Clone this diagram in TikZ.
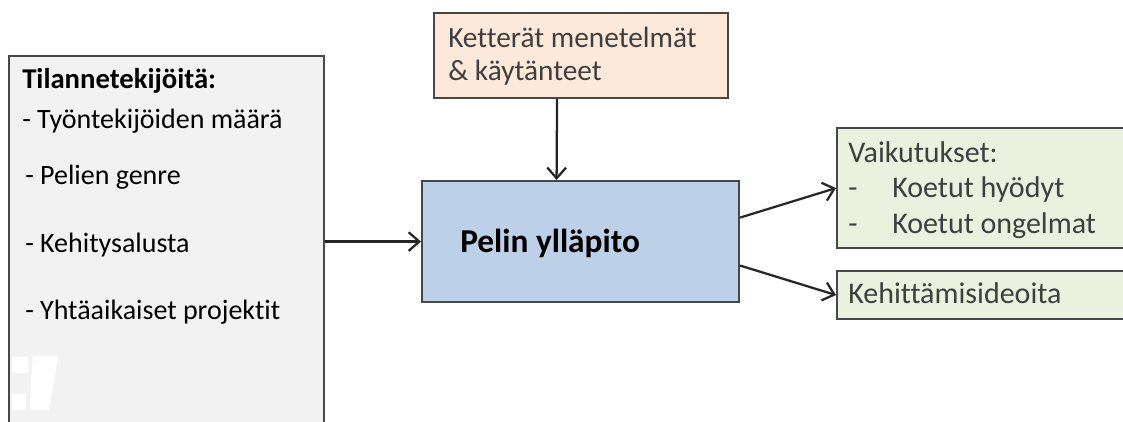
\documentclass[tikz,border=0pt]{standalone}
\usepackage{fontspec}
\setmainfont{Carlito}[Ligatures={NoCommon}]
\usepackage{tikz}
\usetikzlibrary{arrows.meta}
\definecolor{boxline}{HTML}{474747}
\definecolor{tekijafill}{HTML}{F2F2F2}
\definecolor{ketterafill}{HTML}{FDE9D9}
\definecolor{yllapitofill}{HTML}{BCD0E8}
\definecolor{vaikutusfill}{HTML}{EBF1DE}
\definecolor{harmaateksti}{HTML}{3F3F3F}

\begin{document}
\begin{tikzpicture}[x=0.75pt,y=-0.75pt,
    box/.style={draw=boxline, line width=1.6pt, inner sep=0pt, anchor=north west},
    txt/.style={anchor=base west, inner sep=0pt, font=\fontsize{21}{25}\selectfont},
    rtxt/.style={txt, harmaateksti, font=\fontsize{22.5}{27}\selectfont},
    arr/.style={-{Straight Barb[length=8pt,width=14pt]}, line width=1.7pt, black!85}]
  \clip (0,0) rectangle (1123,421);

  % Draw boxes
  \node [box, fill=tekijafill, minimum width=236.25pt, minimum height=300pt] (tekijat) at (8,55) {};
  \node [box, fill=ketterafill, minimum width=220.5pt, minimum height=63.75pt] (ketterat) at (433,12) {};
  \node [box, fill=yllapitofill, minimum width=237.75pt, minimum height=90.75pt] (yllapito) at (421,180) {};
  \node [box, fill=vaikutusfill, minimum width=235.5pt, minimum height=90pt] (vaikutukset) at (836,127) {};
  \node [box, fill=vaikutusfill, minimum width=235.5pt, minimum height=36pt] (ideat) at (836,270) {};

  % White patch in the corner
  \fill [white] (12,357) rectangle (28,373);
  \fill [white] (12,394) rectangle (26,410);
  \fill [white] (33,356) -- (58,356) -- (49,410) -- (30,410) -- (31,378) -- cycle;

  % Texts, left
  \node [txt, font=\fontsize{21.5}{25}\selectfont\bfseries] (otsikko) at (22,88) {Tilannetekijöitä:};
  \node [txt] (tyontekijat) at (22,128) {- Työntekijöiden määrä};
  \node [txt] (genre) at (25,184) {- Pelien genre};
  \node [txt] (alusta) at (25,252) {- Kehitysalusta};
  \node [txt] (projektit) at (25,319) {- Yhtäaikaiset projektit};

  % Texts, top and middle
  \node [rtxt, font=\fontsize{22}{26}\selectfont] (ketterat1) at (448,47) {Ketterät menetelmät};
  \node [rtxt, font=\fontsize{22}{26}\selectfont] (ketterat2) at (448,80) {\& käytänteet};
  \node [txt, font=\fontsize{25}{30}\selectfont\bfseries] (yllapitoteksti) at (460,252) {Pelin ylläpito};

  % Texts, right
  \node [rtxt] (vaikutus0) at (848,162) {Vaikutukset:};
  \node [rtxt] (vaikutus1) at (848,197) {\makebox[33pt][l]{-}Koetut hyödyt};
  \node [rtxt] (vaikutus2) at (848,233) {\makebox[33pt][l]{-}Koetut ongelmat};
  \node [rtxt] (ideateksti) at (848,303) {Kehittämisideoita};

  % Draw arrows
  \draw [arr] (tekijat.east |- yllapito.west) -- (yllapito.west);
  \draw [arr] ([xshift=-18pt]ketterat.south) -- ([xshift=-18pt]yllapito.north);
  \draw [arr] ([yshift=18pt]yllapito.east) -- (vaikutukset.west);
  \draw [arr] ([yshift=-18pt]yllapito.east) -- (ideat.west);
\end{tikzpicture}
\end{document}
